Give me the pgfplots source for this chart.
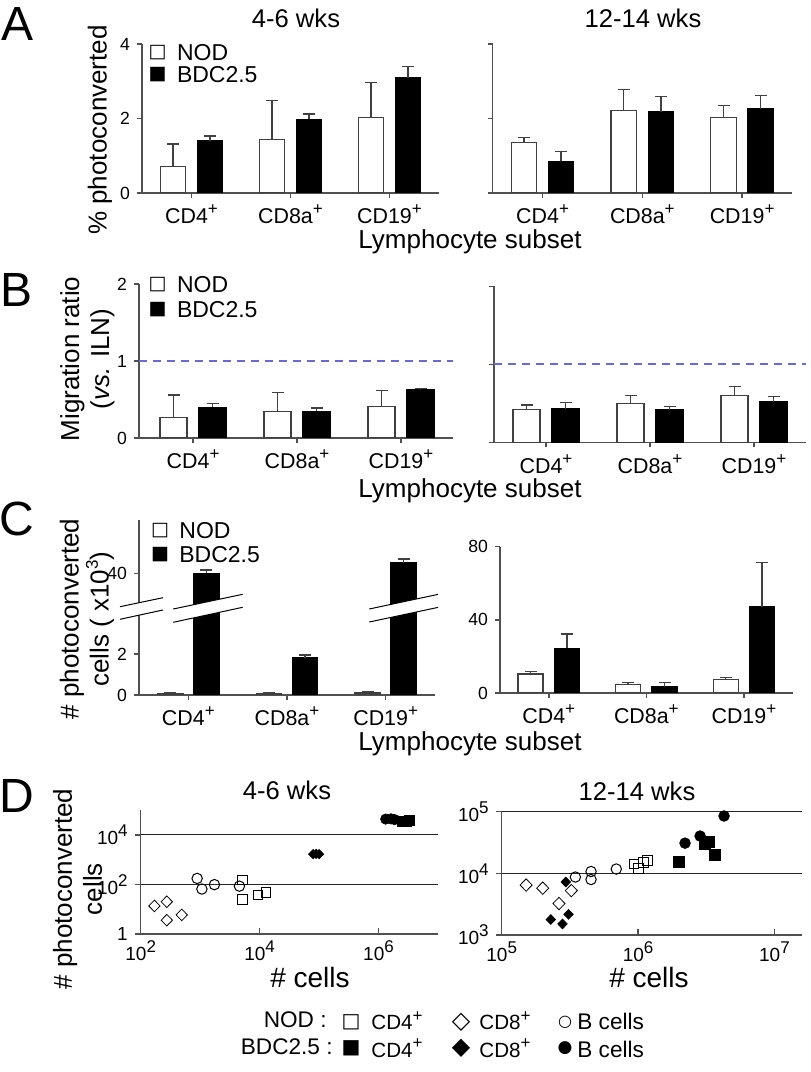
\documentclass[border=0pt]{standalone}
\usepackage{fontspec}
\setmainfont{Liberation Sans}
\newfontfamily\dv{DejaVu Sans}
\usepackage{pgfplots}
\pgfplotsset{compat=1.18}
\definecolor{axc}{RGB}{80,80,80}
\definecolor{dashc}{RGB}{105,105,215}
\newcommand\fmain{\fontsize{13}{15}\selectfont}
\newcommand\ftitle{\fontsize{12.8}{15}\selectfont}
\newcommand\fcat{\fontsize{10.7}{12.5}\selectfont}
\newcommand\ftick{\fontsize{8.8}{10}\selectfont}
\newcommand\fxt{\fontsize{9.5}{11}\selectfont}
\newcommand\fleg{\fontsize{11.5}{13}\selectfont}
\newcommand\fpanel{\fontsize{24}{28}\selectfont}
\newcommand\sups[1]{\raisebox{0.42em}{\fontsize{8.5}{8.5}\selectfont #1}}
\pgfplotsset{
 barax/.style={scale only axis, anchor=south west, axis x line*=bottom, axis y line*=left,
   axis line style={-, draw=axc, line width=0.75pt},
   tick style={draw=axc, line width=0.75pt},
   tick align=outside, major tick length=2.5pt,
   xtick={0,1,2}, xticklabels={CD4\sups{+},CD8a\sups{+},CD19\sups{+}},
   xticklabel style={font=\fcat},
   yticklabel style={font=\ftick},
   /pgf/number format/assume math mode=true,
   xmin=-0.5, xmax=2.5, ymin=0},
 errs/.style={error bars/.cd, y dir=plus, y explicit, error mark=-,
   error bar style={line width=0.7pt, color=black!75},
   error mark options={rotate=90, line width=0.7pt, color=black!75, mark size=3pt}},
 nod/.style={ybar, bar width=#1, bar shift=0pt, fill=white, draw=black!75, line width=0.6pt, errs},
 bdc/.style={ybar, bar width=#1, bar shift=0pt, fill=black, draw=black, line width=0.6pt, errs},
 dline/.style={draw=dashc, color=dashc, line width=1pt, dash pattern=on 4pt off 3pt, mark=none},
 dax/.style={scale only axis, anchor=south west,
   axis x line*=bottom, axis y line*=left,
   axis line style={-, draw=axc, line width=0.75pt},
   tick style={draw=axc, line width=0.75pt},
   tick align=outside, major tick length=3pt,
   xminorticks=false, yminorticks=false, ymajorgrids,
   major grid style={draw=black!85, line width=0.6pt},
   xticklabel style={font=\fxt}, yticklabel style={font=\fxt}, clip=false},
 om/.style={only marks, mark options={draw=black, line width=0.5pt}},
 fm/.style={only marks, mark options={draw=black, fill=black, line width=0.3pt}},
}
\begin{document}
\begin{tikzpicture}
\path[use as bounding box] (0,0) rectangle (405pt,536pt);

% ---------------- A ----------------
\begin{axis}[barax, at={(71pt,439.5pt)}, width=148.5pt, height=74.5pt, ymax=4, ytick={0,2,4}]
\addplot[nod=12.75pt] coordinates {(-0.187,0.72) +- (0,0.60) (0.813,1.44) +- (0,1.04) (1.813,2.03) +- (0,0.94)};
\addplot[bdc=12.75pt] coordinates {(0.187,1.40) +- (0,0.13) (1.187,1.98) +- (0,0.14) (2.187,3.10) +- (0,0.30)};
\end{axis}
\begin{axis}[barax, at={(246.35pt,439.5pt)}, width=149.65pt, height=74.5pt, ymax=4, ytick={0,2,4}, yticklabels={,,}]
\addplot[nod=12.75pt] coordinates {(-0.186,1.35) +- (0,0.14) (0.814,2.22) +- (0,0.56) (1.814,2.02) +- (0,0.33)};
\addplot[bdc=12.75pt] coordinates {(0.186,0.85) +- (0,0.27) (1.186,2.18) +- (0,0.41) (2.186,2.26) +- (0,0.36)};
\end{axis}

% ---------------- B ----------------
\begin{axis}[barax, at={(69.5pt,317pt)}, width=157pt, height=77pt, xmin=-0.52, ymax=2, ytick={0,1,2}]
\addplot[dline] coordinates {(-0.52,1) (2.5,1)};
\addplot[nod=13.5pt] coordinates {(-0.1875,0.27) +- (0,0.29) (0.8125,0.34) +- (0,0.25) (1.8125,0.41) +- (0,0.21)};
\addplot[bdc=13.5pt] coordinates {(0.1875,0.40) +- (0,0.05) (1.1875,0.345) +- (0,0.045) (2.1875,0.625) +- (0,0.02)};
\end{axis}
\begin{axis}[barax, at={(247pt,314.75pt)}, width=156pt, height=78pt, ymax=2, ytick={0,1,2}, yticklabels={,,}]
\addplot[dline] coordinates {(-0.5,1) (2.5,1)};
\addplot[nod=13.5pt] coordinates {(-0.1875,0.42) +- (0,0.06) (0.8125,0.50) +- (0,0.105) (1.8125,0.60) +- (0,0.12)};
\addplot[bdc=13.5pt] coordinates {(0.1875,0.43) +- (0,0.085) (1.1875,0.42) +- (0,0.04) (2.1875,0.52) +- (0,0.07)};
\end{axis}

% ---------------- C ----------------
\begin{axis}[barax, at={(69.5pt,188.5pt)}, width=148pt, height=43.5pt, ymax=4.244, ytick={0,2}]
\addplot[nod=12.75pt] coordinates {(-0.183,0.06) +- (0,0.03) (0.817,0.07) +- (0,0.03) (1.817,0.10) +- (0,0.04)};
\addplot[bdc=12.75pt] coordinates {(0.183,40) +- (0,0) (1.183,1.82) +- (0,0.13) (2.183,44.1) +- (0,0)};
\end{axis}
\begin{axis}[barax, at={(69.5pt,232pt)}, width=148pt, height=44pt, ymin=26.12, ymax=61.32, ytick={40}, axis x line=none]
\addplot[bdc=12.75pt] coordinates {(0.183,40) +- (0,1.3) (2.183,44.1) +- (0,1.6)};
\end{axis}
\begin{axis}[barax, at={(250pt,189.5pt)}, width=146.35pt, height=73.15pt, ymax=80, ytick={0,40,80}]
\addplot[nod=12.5pt] coordinates {(-0.187,10.4) +- (0,1.3) (0.813,4.7) +- (0,0.9) (1.813,7.3) +- (0,1.3)};
\addplot[bdc=12.5pt] coordinates {(0.187,24.4) +- (0,7.9) (1.187,3.3) +- (0,2.5) (2.187,47.2) +- (0,24.2)};
\end{axis}
% axis breaks
\fill[white] (60pt,232.65pt) -- (81.5pt,237.15pt) -- (81.5pt,231pt) -- (60pt,226.35pt) -- cycle;
\draw[black, line width=0.5pt] (60pt,232.65pt) -- (81.5pt,237.15pt) (60pt,226.35pt) -- (81.5pt,231pt);
\fill[white] (86.65pt,231.5pt) -- (121.35pt,238.85pt) -- (121.35pt,232.35pt) -- (86.65pt,224.85pt) -- cycle;
\draw[black, line width=0.5pt] (86.65pt,231.5pt) -- (121.35pt,238.85pt) (86.65pt,224.85pt) -- (121.35pt,232.35pt);
\fill[white] (184.65pt,231.5pt) -- (219pt,238.8pt) -- (219pt,232.3pt) -- (184.65pt,225pt) -- cycle;
\draw[black, line width=0.5pt] (184.65pt,231.5pt) -- (219pt,238.8pt) (184.65pt,225pt) -- (219pt,232.3pt);

% ---------------- D ----------------
\begin{loglogaxis}[dax, at={(70.35pt,69pt)}, width=148.65pt, height=62pt, xmin=1e2, xmax=1e7, ymin=1, ymax=1e5,
  xtick align=inside,
  xtick={1e2,1e4,1e6}, xticklabels={10\sups{2},10\sups{4},10\sups{6}},
  ytick={1,1e2,1e4}, yticklabels={1,10\sups{2},10\sups{4}}]
\addplot[om, mark=diamond, mark size=2.9pt, mark options={xscale=1.3}] coordinates {(170,13.5) (275,20) (275,3.6) (490,5.9)};
\addplot[om, mark=o, mark size=2.6pt] coordinates {(890,174) (1070,65) (1740,98) (4570,85)};
\addplot[om, mark=square, mark size=2.4pt] coordinates {(5130,148) (5130,25) (9330,37) (12900,46)};
\addplot[fm, mark=diamond*, mark size=2.3pt, mark options={xscale=1.3}] coordinates {(79400,1660) (89000,1700) (100000,1660)};
\addplot[fm, mark=*, mark size=2.6pt] coordinates {(1.32e6,4.3e4) (1.62e6,4.4e4) (1.86e6,4.1e4)};
\addplot[fm, mark=square*, mark size=2.4pt] coordinates {(2.5e6,3.6e4) (2.9e6,3.3e4) (3.3e6,3.8e4)};
\end{loglogaxis}
\begin{loglogaxis}[dax, at={(250.85pt,68.5pt)}, width=150pt, height=61.65pt, xmin=1e5, xmax=1.585e7, ymin=1e3, ymax=1e5,
  xtick align=inside,
  xtick={1e5,1e6,1e7}, xticklabels={10\sups{5},10\sups{6},10\sups{7}},
  ytick={1e3,1e4,1e5}, yticklabels={10\sups{3},10\sups{4},10\sups{5}}]
\addplot[om, mark=diamond, mark size=3.1pt, mark options={xscale=1.3}] coordinates {(1.51e5,6460) (2.0e5,5750) (2.63e5,3240) (3.24e5,5250)};
\addplot[fm, mark=diamond*, mark size=2.4pt, mark options={xscale=1.3}] coordinates {(2.95e5,7240) (2.29e5,1780) (2.79e5,1510) (3.09e5,2160)};
\addplot[om, mark=o, mark size=2.6pt] coordinates {(3.47e5,8710) (4.52e5,10700) (4.52e5,7940) (6.92e5,11750)};
\addplot[om, mark=square, mark size=2.4pt] coordinates {(9.33e5,14100) (1.01e6,12000) (1.10e6,15100) (1.17e6,16000)};
\addplot[fm, mark=square*, mark size=2.7pt] coordinates {(2.0e6,15500) (3.09e6,30200) (3.31e6,32400) (3.67e6,19950)};
\addplot[fm, mark=*, mark size=2.7pt] coordinates {(2.21e6,30900) (2.85e6,40300) (4.27e6,85100)};
\end{loglogaxis}

% ---------------- texts ----------------
\node[font=\fpanel] at (9pt,524pt) {A};
\node[font=\fpanel] at (8.5pt,391pt) {B};
\node[font=\fpanel] at (8.5pt,276.5pt) {C};
\node[font=\fpanel] at (8.5pt,138pt) {D};

\node[font=\ftitle] at (148pt,527pt) {4-6 wks};
\node[font=\ftitle] at (321.5pt,527pt) {12-14 wks};
\node[font=\ftitle] at (143.5pt,141pt) {4-6 wks};
\node[font=\ftitle] at (318.5pt,140.5pt) {12-14 wks};

\node[font=\fmain, rotate=90] at (50pt,471pt) {\% photoconverted};
\node[font=\fmain, rotate=90, align=center] at (43.75pt,356.5pt) {Migration ratio\\(\textit{vs.} ILN)};
\node[font=\fmain, rotate=90, align=center] at (43.5pt,226.5pt) {\# photoconverted\\cells ( x10\sups{3})};
\node[font=\fmain, rotate=90, align=center] at (38.75pt,91.5pt) {\# photoconverted\\cells};

\node[font=\fmain] at (235pt,415pt) {Lymphocyte subset};
\node[font=\fmain] at (235pt,290.5pt) {Lymphocyte subset};
\node[font=\fmain] at (235pt,164pt) {Lymphocyte subset};
\node[font=\fontsize{14}{16}\selectfont] at (155pt,47.5pt) {\# cells};
\node[font=\fontsize{14}{16}\selectfont] at (324.5pt,47.5pt) {\# cells};

% panel legends
\node[font={\dv\fontsize{9.5}{10}\selectfont}, inner sep=0pt] at (78.75pt,509.75pt) {□};
\node[font={\dv\fontsize{9.5}{10}\selectfont}, inner sep=0pt] at (78.75pt,498.5pt) {■};
\node[font=\fleg, anchor=west, inner sep=0pt] at (88.3pt,509.75pt) {NOD};
\node[font=\fleg, anchor=west, inner sep=0pt] at (88.3pt,498.5pt) {BDC2.5};
\node[font={\dv\fontsize{9.5}{10}\selectfont}, inner sep=0pt] at (78.75pt,393.5pt) {□};
\node[font={\dv\fontsize{9.5}{10}\selectfont}, inner sep=0pt] at (78.75pt,381pt) {■};
\node[font=\fleg, anchor=west, inner sep=0pt] at (88.3pt,393.5pt) {NOD};
\node[font=\fleg, anchor=west, inner sep=0pt] at (88.3pt,381pt) {BDC2.5};
\node[font={\dv\fontsize{9.5}{10}\selectfont}, inner sep=0pt] at (80pt,270.75pt) {□};
\node[font={\dv\fontsize{9.5}{10}\selectfont}, inner sep=0pt] at (80pt,258.75pt) {■};
\node[font=\fleg, anchor=west, inner sep=0pt] at (89.5pt,270.75pt) {NOD};
\node[font=\fleg, anchor=west, inner sep=0pt] at (89.5pt,258.75pt) {BDC2.5};

% bottom legend
\node[font=\fontsize{11.3}{13}\selectfont, anchor=base east, inner sep=0pt] at (163.5pt,22.15pt) {NOD :};
\node[font=\fontsize{11.3}{13}\selectfont, anchor=base east, inner sep=0pt] at (166.5pt,8.85pt) {BDC2.5 :};
\node[font={\dv\fontsize{10}{11}\selectfont}, inner sep=0pt] at (175.5pt,25pt) {□};
\node[font={\dv\fontsize{10}{11}\selectfont}, inner sep=0pt] at (175.5pt,12pt) {■};
\node[font={\dv\fontsize{12}{13}\selectfont}, inner sep=0pt] at (230.5pt,25pt) {◇};
\node[font={\dv\fontsize{12}{13}\selectfont}, inner sep=0pt] at (230.5pt,12pt) {◆};
\node[font={\dv\fontsize{8}{9}\selectfont}, inner sep=0pt] at (282.5pt,25pt) {○};
\node[font={\dv\fontsize{8.5}{9}\selectfont}, inner sep=0pt] at (282.5pt,12pt) {●};
\node[font=\fontsize{10.3}{12}\selectfont, anchor=base west, inner sep=0pt] at (185.5pt,21pt) {CD4\sups{+}};
\node[font=\fontsize{10.3}{12}\selectfont, anchor=base west, inner sep=0pt] at (185.5pt,7.3pt) {CD4\sups{+}};
\node[font=\fontsize{10.3}{12}\selectfont, anchor=base west, inner sep=0pt] at (239.5pt,21pt) {CD8\sups{+}};
\node[font=\fontsize{10.3}{12}\selectfont, anchor=base west, inner sep=0pt] at (239.5pt,7.3pt) {CD8\sups{+}};
\node[font=\fontsize{11.3}{13}\selectfont, anchor=base west, inner sep=0pt] at (288.5pt,21pt) {B cells};
\node[font=\fontsize{11.3}{13}\selectfont, anchor=base west, inner sep=0pt] at (288.5pt,7.3pt) {B cells};
\end{tikzpicture}
\end{document}
